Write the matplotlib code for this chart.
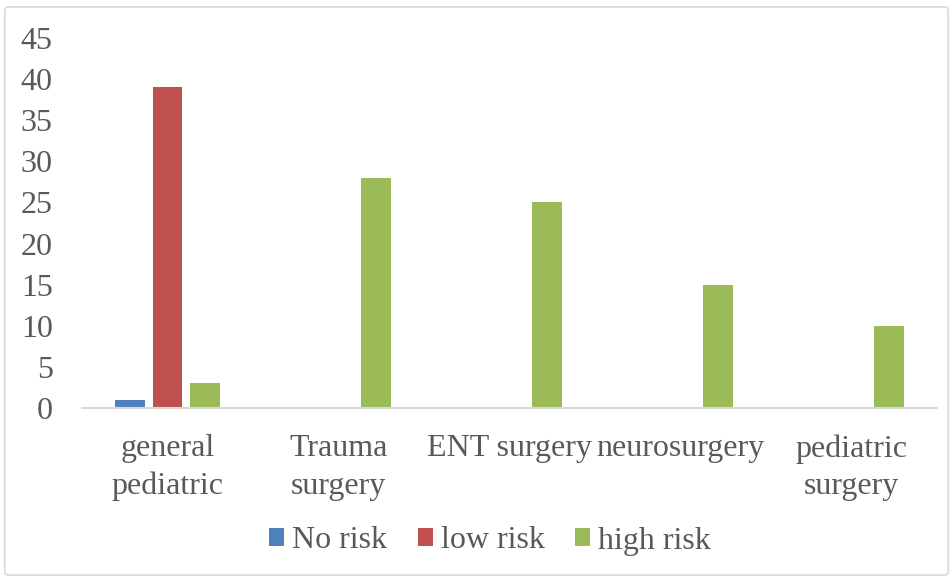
import numpy as np
import matplotlib.pyplot as plt
from matplotlib.patches import FancyBboxPatch

categories = ["general\npediatric", "Trauma\nsurgery", "ENT surgery", "neurosurgery", "pediatric\nsurgery"]
no_risk = [1, 0, 0, 0, 0]
low_risk = [39, 0, 0, 0, 0]
high_risk = [3, 28, 25, 15, 10]
series_names = ["No risk", "low risk", "high risk"]
colors = ["#4F81BD", "#C0504D", "#9BBB59"]

plt.rcParams['font.family'] = ['Liberation Serif', 'DejaVu Serif']
text_color = '#595959'

fig = plt.figure(figsize=(9.53, 5.78), dpi=100)
fig.patch.set_facecolor('white')
fig.patches.append(FancyBboxPatch((0.005, 0.005), 0.99, 0.983, boxstyle="round,pad=0,rounding_size=0.005",
                                  transform=fig.transFigure, fill=False, ec='#D9D9D9', lw=1.2))
ax = fig.add_axes([82 / 953, 1 - 408 / 578, (937 - 82) / 953, (408 - 38) / 578])

x = np.arange(len(categories))
w = 0.175
step = 0.222
for i, (vals, name, c) in enumerate(zip([no_risk, low_risk, high_risk], series_names, colors)):
    ax.bar(x + (i - 1) * step, vals, width=w, color=c, label=name)

ax.set_xlim(-0.5, len(categories) - 0.5)
ax.set_ylim(0, 45)
ax.set_yticks(range(0, 46, 5))
ax.set_xticks(x)
ax.set_xticklabels(categories, fontsize=23, color=text_color, linespacing=1.38)
ax.tick_params(axis='y', labelsize=23, labelcolor=text_color, length=0, pad=21)
ax.tick_params(axis='x', length=0, pad=19)
for s in ['top', 'right', 'left']:
    ax.spines[s].set_visible(False)
ax.spines['bottom'].set_color('#D9D9D9')
ax.spines['bottom'].set_linewidth(1.5)

leg = fig.legend(loc='center', bbox_to_anchor=(490 / 953, 1 - 541 / 578), ncol=3, frameon=False,
                 fontsize=23, handlelength=0.47, handleheight=0.47, handletextpad=0.25, columnspacing=0.95)
for t in leg.get_texts():
    t.set_color(text_color)

fig.savefig("out.png", dpi=100, facecolor='white')
